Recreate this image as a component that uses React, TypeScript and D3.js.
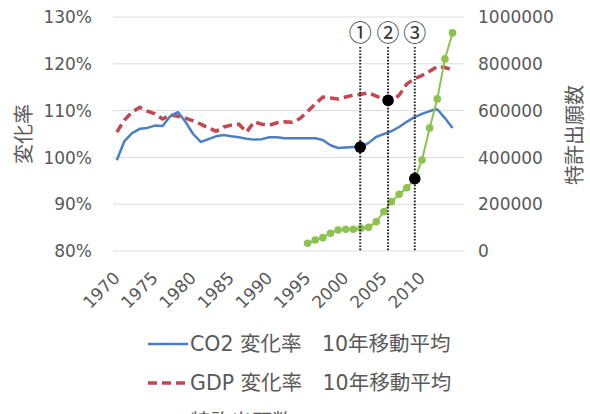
import React from 'react';
import * as d3 from 'd3';

// Category axis: one slot per year
const years: number[] = d3.range(1970, 2016);
const xTickYears = [1970, 1975, 1980, 1985, 1990, 1995, 2000, 2005, 2010];

// CO2 change rate, 10-year moving average (%), 1970–2014
const co2Rate = [
  99.4, 103.5, 105.2, 106.1, 106.3, 106.8, 106.7, 108.8, 109.7, 107.6,
  105.0, 103.3, 103.9, 104.5, 104.8, 104.5, 104.3, 104.0, 103.8, 103.9,
  104.3, 104.3, 104.1, 104.1, 104.1, 104.1, 104.1, 103.7, 102.6, 102.0,
  102.1, 102.2, 102.2, 103.1, 104.4, 105.0, 105.6, 106.5, 107.6, 108.6,
  109.3, 109.9, 110.3, 108.4, 106.3,
];

// GDP change rate, 10-year moving average (%), 1970–2014
const gdpRate = [
  105.4, 108.0, 109.7, 110.7, 109.9, 109.3, 108.2, 109.1, 108.8, 108.4,
  107.8, 107.1, 106.3, 105.6, 106.5, 106.9, 107.1, 105.4, 107.6, 107.1,
  106.9, 107.4, 107.6, 107.5, 108.3, 109.8, 111.4, 112.9, 112.7, 112.5,
  112.9, 113.3, 113.5, 113.8, 113.1, 112.4, 112.0, 113.3, 115.7, 116.8,
  117.5, 118.4, 119.4, 119.2, 118.7,
];
const rateYears: number[] = d3.range(1970, 2015);

// Patent applications, 1995–2014
const patentYears: number[] = d3.range(1995, 2015);
const patents = [
  33000, 47000, 57000, 76000, 90000, 93000, 93000, 97000, 101000, 125000,
  168000, 211000, 242000, 270000, 305000, 389000, 526000, 650000, 821000, 932000,
];

const leftTicks = [80, 90, 100, 110, 120, 130];
const rightTicks = [0, 200000, 400000, 600000, 800000, 1000000];

// Highlighted moments: ① CO2, ② GDP, ③ patents
const markLabels = ['①', '②', '③'];
const markYears = [2001.9, 2005.55, 2009.05];
const markSeries = ['co2', 'gdp', 'patent'];

const BLUE = '#4a80c2';
const RED = '#c4474f';
const GREEN = '#8dc24f';
const TEXT = '#595959';
const GRID = '#dcdcdc';
const NUM_FONT = '"DejaVu Sans", "Noto Sans CJK JP", sans-serif';
const JP_FONT = '"DejaVu Sans", "Noto Sans CJK JP", sans-serif';

function interp(xs: number[], vs: number[], t: number): number {
  return d3.scaleLinear().domain(xs).range(vs)(t);
}

export default function App() {
  const W = 590;
  const H = 414;
  const band = d3.scaleBand<number>().domain(years).range([113, 464]);
  const half = band.bandwidth() / 2;
  const x = d3
    .scaleLinear()
    .domain([1970, 2015])
    .range([(band(1970) as number) + half, (band(2015) as number) + half]);
  const yL = d3.scaleLinear().domain([80, 130]).range([251, 17]);
  const yR = d3.scaleLinear().domain([0, 1000000]).range([251, 17]);

  const lineL = d3
    .line<[number, number]>()
    .x((d) => x(d[0]))
    .y((d) => yL(d[1]));
  const lineR = d3
    .line<[number, number]>()
    .x((d) => x(d[0]))
    .y((d) => yR(d[1]));

  const co2Pts = rateYears.map((yr, i) => [yr, co2Rate[i]] as [number, number]);
  const gdpPts = rateYears.map((yr, i) => [yr, gdpRate[i]] as [number, number]);
  const patPts = patentYears.map((yr, i) => [yr, patents[i]] as [number, number]);

  const markPos = markYears.map((yr, i) => {
    const s = markSeries[i];
    let py: number;
    if (s === 'co2') py = yL(interp(rateYears, co2Rate, yr));
    else if (s === 'gdp') py = yL(interp(rateYears, gdpRate, yr));
    else py = yR(interp(patentYears, patents, yr));
    return { x: x(yr), y: py, label: markLabels[i] };
  });

  return (
    <svg
      width={W}
      height={H}
      viewBox={`0 0 ${W} ${H}`}
      style={{ position: 'absolute', left: 0, top: 0, background: '#fff' }}
    >
      {/* gridlines */}
      {leftTicks.map((t) => (
        <line key={t} x1={113} x2={464} y1={yL(t)} y2={yL(t)} stroke={GRID} strokeWidth={1} />
      ))}

      {/* left axis labels */}
      {leftTicks.map((t) => (
        <text
          key={t}
          x={92}
          y={yL(t)}
          dy="0.36em"
          textAnchor="end"
          fontFamily={NUM_FONT}
          fontSize={17}
          fill={TEXT}
        >
          {`${t}%`}
        </text>
      ))}

      {/* right axis labels */}
      {rightTicks.map((t) => (
        <text
          key={t}
          x={478}
          y={yR(t)}
          dy="0.36em"
          textAnchor="start"
          fontFamily={NUM_FONT}
          fontSize={17}
          fill={TEXT}
        >
          {t}
        </text>
      ))}

      {/* x axis labels */}
      {xTickYears.map((yr) => (
        <text
          key={yr}
          transform={`translate(${x(yr) + 4},${279}) rotate(-45)`}
          textAnchor="end"
          fontFamily={NUM_FONT}
          fontSize={17}
          fill={TEXT}
        >
          {yr}
        </text>
      ))}

      {/* axis titles */}
      <text
        transform="translate(24,134) rotate(-90)"
        textAnchor="middle"
        dy="0.36em"
        fontFamily={JP_FONT}
        fontSize={20}
        fill={TEXT}
      >
        変化率
      </text>
      <text
        transform="translate(575,135) rotate(-90)"
        textAnchor="middle"
        dy="0.36em"
        fontFamily={JP_FONT}
        fontSize={20}
        fill={TEXT}
      >
        特許出願数
      </text>

      {/* series */}
      <path d={lineL(gdpPts) as string} fill="none" stroke={RED} strokeWidth={3.5} strokeDasharray="9,5" />
      <path d={lineL(co2Pts) as string} fill="none" stroke={BLUE} strokeWidth={2.5} strokeLinejoin="round" />
      <path d={lineR(patPts) as string} fill="none" stroke={GREEN} strokeWidth={2} />
      {patPts.map((d) => (
        <circle key={d[0]} cx={x(d[0])} cy={yR(d[1])} r={3.8} fill={GREEN} />
      ))}

      {/* highlighted moments */}
      {markPos.map((m) => (
        <g key={m.label}>
          <line
            x1={m.x}
            x2={m.x}
            y1={47}
            y2={251}
            stroke="#222"
            strokeWidth={2}
            strokeDasharray="1.6,1.6"
          />
          <circle cx={m.x} cy={m.y} r={5.8} fill="#000" />
          <text
            x={m.x}
            y={33}
            dy="0.36em"
            textAnchor="middle"
            fontFamily='"Noto Sans CJK JP", sans-serif'
            fontSize={23}
            fill="#333"
          >
            {m.label}
          </text>
        </g>
      ))}

      {/* legend */}
      <g fontFamily={JP_FONT} fontSize={20.5} fill={TEXT}>
        <line x1={148} x2={188} y1={344} y2={344} stroke={BLUE} strokeWidth={2.5} />
        <text x={190} y={344} dy="0.36em">
          {'CO2 変化率\u300010年移動平均'}
        </text>
        <line x1={148} x2={188} y1={383} y2={383} stroke={RED} strokeWidth={3.5} strokeDasharray="9,5" />
        <text x={190} y={383} dy="0.36em">
          {'GDP 変化率\u300010年移動平均'}
        </text>
        <line x1={148} x2={188} y1={422} y2={422} stroke={GREEN} strokeWidth={2} />
        <circle cx={168} cy={422} r={3.8} fill={GREEN} />
        <text x={190} y={422} dy="0.36em">
          特許出願数
        </text>
      </g>
    </svg>
  );
}
